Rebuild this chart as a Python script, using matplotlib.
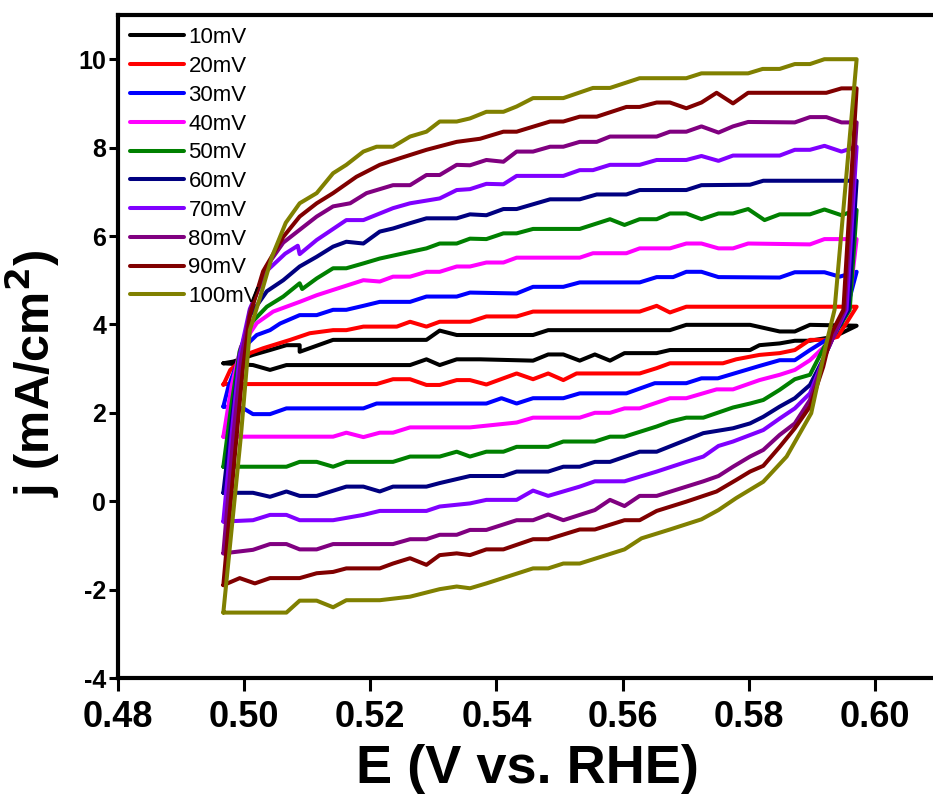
"""
Cyclic voltammetry at different scan rates, j vs E
"""
import matplotlib
import matplotlib.ticker
from matplotlib import pyplot as plt

matplotlib.use('agg')

plt.rcParams['font.family'] = ['Liberation Sans', 'DejaVu Sans']
plt.rcParams['axes.unicode_minus'] = False

labels = ["10mV", "20mV", "30mV", "40mV", "50mV", "60mV", "70mV", "80mV", "90mV", "100mV"]
colors = ["#000000", "#FF0000", "#0000FF", "#FF00FF", "#008000",
          "#000080", "#8000FF", "#800080", "#800000", "#808000"]

# each loop: anodic branch left->right, then cathodic branch right->left
e_10 = [0.4967, 0.4983, 0.5014, 0.5041, 0.5067, 0.5088, 0.5088, 0.5141, 0.5289, 0.531, 0.5337, 0.5458,
        0.5482, 0.5675, 0.5701, 0.5802, 0.5849, 0.5873, 0.5897, 0.5971,
        0.5935, 0.5897, 0.5873, 0.5849, 0.5817, 0.5802, 0.5675, 0.5654, 0.5603, 0.558, 0.5556, 0.5532,
        0.5506, 0.5482, 0.5458, 0.5374, 0.5337, 0.531, 0.5289, 0.5263, 0.5067, 0.5041, 0.5014, 0.4967]
j_10 = [3.12, 3.16, 3.31, 3.42, 3.53, 3.53, 3.38, 3.65, 3.65, 3.86, 3.76, 3.76,
        3.87, 3.87, 3.99, 3.99, 3.84, 3.84, 3.99, 3.97,
        3.72, 3.63, 3.63, 3.57, 3.53, 3.42, 3.42, 3.35, 3.35, 3.18, 3.32, 3.18,
        3.32, 3.32, 3.18, 3.21, 3.21, 3.08, 3.21, 3.08, 3.08, 2.97, 3.08, 3.12]

e_20 = [0.4967, 0.4978, 0.5009, 0.5030, 0.5073, 0.5104, 0.5141, 0.5162, 0.5189, 0.5242, 0.5263, 0.5289,
        0.531, 0.5358, 0.5384, 0.5432, 0.5458, 0.5627, 0.5654, 0.5675, 0.5701, 0.5971,
        0.5941, 0.5923, 0.5897, 0.5873, 0.5849, 0.5817, 0.578, 0.5759, 0.5675, 0.5654, 0.5627, 0.5527,
        0.5506, 0.5482, 0.5458, 0.5432, 0.5384, 0.5358, 0.5337, 0.531, 0.5289, 0.5263, 0.5236, 0.5210,
        0.4967]
j_20 = [2.63, 2.97, 3.35, 3.46, 3.65, 3.80, 3.87, 3.87, 3.95, 3.95, 4.06, 3.95,
        4.06, 4.06, 4.18, 4.18, 4.29, 4.29, 4.42, 4.27, 4.40, 4.40,
        3.72, 3.65, 3.65, 3.42, 3.35, 3.31, 3.21, 3.12, 3.12, 3.01, 2.89, 2.89,
        2.74, 2.89, 2.76, 2.89, 2.64, 2.74, 2.74, 2.63, 2.63, 2.76, 2.76, 2.65,
        2.65]

e_30 = [0.4967, 0.4975, 0.4985, 0.5001, 0.502, 0.5041, 0.5057, 0.5088, 0.5115, 0.5141, 0.5162, 0.5189,
        0.5215, 0.5263, 0.5289, 0.5337, 0.5358, 0.5432, 0.5458, 0.5506, 0.5532, 0.5627, 0.5654, 0.568,
        0.5701, 0.5725, 0.5752, 0.5849, 0.5873, 0.592, 0.5944, 0.5971,
        0.5955, 0.5935, 0.5923, 0.5897, 0.5873, 0.5849, 0.5817, 0.5751, 0.5725, 0.5701, 0.5651, 0.5606,
        0.5532, 0.5506, 0.5458, 0.5432, 0.5408, 0.5384, 0.5210, 0.5189, 0.5067, 0.5041, 0.5014, 0.4999,
        0.4967]
j_30 = [2.14, 2.59, 2.97, 3.50, 3.76, 3.87, 4.02, 4.21, 4.21, 4.33, 4.33, 4.42,
        4.51, 4.51, 4.63, 4.63, 4.72, 4.70, 4.85, 4.85, 4.95, 4.95, 5.07, 5.07,
        5.19, 5.19, 5.07, 5.06, 5.18, 5.18, 5.08, 5.19,
        4.33, 3.80, 3.65, 3.42, 3.19, 3.19, 3.06, 2.78, 2.78, 2.67, 2.67, 2.44,
        2.44, 2.33, 2.33, 2.21, 2.33, 2.21, 2.21, 2.10, 2.10, 1.97, 1.97, 2.10,
        2.14]

e_40 = [0.4967, 0.4980, 0.4995, 0.5020, 0.5046, 0.5088, 0.5115, 0.5141, 0.5189, 0.5215, 0.5236, 0.5263,
        0.5289, 0.531, 0.5337, 0.5358, 0.5384, 0.5411, 0.5432, 0.5532, 0.5553, 0.5606, 0.5627, 0.5675,
        0.5701, 0.5725, 0.5752, 0.5775, 0.5799, 0.5897, 0.592, 0.5971,
        0.5958, 0.5935, 0.592, 0.5897, 0.5873, 0.5849, 0.5817, 0.5775, 0.5749, 0.5701, 0.5675, 0.5627,
        0.5603, 0.558, 0.5556, 0.5532, 0.5458, 0.5432, 0.5358, 0.5263, 0.5236, 0.5215, 0.5189, 0.5162,
        0.5141, 0.4967]
j_40 = [1.46, 2.6, 3.5, 4.03, 4.29, 4.51, 4.66, 4.78, 5.0, 4.97, 5.08, 5.08,
        5.19, 5.19, 5.31, 5.31, 5.40, 5.40, 5.51, 5.51, 5.61, 5.61, 5.72, 5.72,
        5.83, 5.83, 5.72, 5.72, 5.83, 5.81, 5.93, 5.93,
        4.33, 3.75, 3.50, 3.19, 2.97, 2.86, 2.74, 2.53, 2.53, 2.33, 2.33, 2.10,
        2.10, 2.0, 2.0, 1.89, 1.89, 1.78, 1.67, 1.67, 1.55, 1.55, 1.45, 1.55,
        1.46, 1.46]

e_50 = [0.4967, 0.4980, 0.4993, 0.5009, 0.5036, 0.5062, 0.5088, 0.5092, 0.5115, 0.5141, 0.5162, 0.5189,
        0.5215, 0.5263, 0.5289, 0.531, 0.5337, 0.5358, 0.5384, 0.5411, 0.5432, 0.5458, 0.5532, 0.558,
        0.5603, 0.5627, 0.5654, 0.5675, 0.5701, 0.5725, 0.5752, 0.5775, 0.5799, 0.5825, 0.5849, 0.5897,
        0.592, 0.5947, 0.5971,
        0.5960, 0.5935, 0.592, 0.5897, 0.5873, 0.5849, 0.5823, 0.5802, 0.5775, 0.5728, 0.5701, 0.5675,
        0.5654, 0.5603, 0.558, 0.5556, 0.5506, 0.5482, 0.5432, 0.5411, 0.5384, 0.5358, 0.5337, 0.531,
        0.5263, 0.5236, 0.5162, 0.5141, 0.5115, 0.5088, 0.5067, 0.4967]
j_50 = [0.78, 2.2, 3.4, 4.0, 4.40, 4.63, 4.93, 4.80, 5.04, 5.27, 5.27, 5.38,
        5.49, 5.64, 5.72, 5.83, 5.83, 5.94, 5.93, 6.06, 6.06, 6.16, 6.16, 6.38,
        6.25, 6.38, 6.38, 6.51, 6.51, 6.38, 6.51, 6.51, 6.61, 6.36, 6.49, 6.49,
        6.60, 6.47, 6.59,
        4.33, 3.75, 3.50, 2.86, 2.76, 2.52, 2.29, 2.21, 2.12, 1.89, 1.89, 1.80,
        1.69, 1.46, 1.46, 1.35, 1.35, 1.23, 1.23, 1.12, 1.12, 1.01, 1.12, 1.01,
        1.01, 0.89, 0.89, 0.78, 0.89, 0.89, 0.78, 0.78]

e_60 = [0.4967, 0.4980, 0.4993, 0.5009, 0.5036, 0.5062, 0.5088, 0.5115, 0.5141, 0.5162, 0.5189, 0.5215,
        0.5236, 0.5263, 0.5289, 0.5337, 0.5358, 0.5384, 0.5411, 0.5432, 0.5485, 0.5532, 0.5559, 0.5606,
        0.5627, 0.5701, 0.5725, 0.5802, 0.5823, 0.5971,
        0.5958, 0.5935, 0.592, 0.5897, 0.5873, 0.5849, 0.5823, 0.5802, 0.5775, 0.5728, 0.5654, 0.5627,
        0.558, 0.5556, 0.5532, 0.5506, 0.5482, 0.5432, 0.5411, 0.5358, 0.5337, 0.531, 0.5289, 0.5236,
        0.5215, 0.5189, 0.5162, 0.5115, 0.5088, 0.5067, 0.5041, 0.5014, 0.4967]
j_60 = [0.19, 1.8, 3.3, 4.2, 4.75, 5.0, 5.31, 5.53, 5.76, 5.87, 5.83, 6.10,
        6.17, 6.29, 6.40, 6.40, 6.49, 6.47, 6.61, 6.61, 6.83, 6.83, 6.94, 6.94,
        7.04, 7.04, 7.15, 7.16, 7.25, 7.25,
        4.33, 3.75, 3.27, 2.63, 2.33, 2.14, 1.91, 1.76, 1.65, 1.54, 1.12, 1.12,
        0.89, 0.89, 0.78, 0.78, 0.67, 0.67, 0.57, 0.57, 0.50, 0.41, 0.33, 0.33,
        0.22, 0.33, 0.33, 0.12, 0.12, 0.22, 0.10, 0.19, 0.19]

e_70 = [0.4967, 0.4980, 0.4993, 0.5009, 0.5035, 0.5065, 0.5085, 0.5088, 0.5115, 0.5162, 0.5189, 0.5236,
        0.5263, 0.531, 0.5337, 0.5358, 0.5384, 0.5411, 0.5432, 0.5506, 0.5532, 0.5553, 0.558, 0.5627,
        0.5654, 0.5701, 0.5725, 0.5752, 0.5775, 0.5849, 0.5873, 0.5897, 0.592, 0.5947, 0.5971,
        0.5955, 0.5935, 0.592, 0.5897, 0.5873, 0.5849, 0.5823, 0.5799, 0.5775, 0.5752, 0.5728, 0.5701,
        0.5654, 0.5603, 0.5556, 0.5532, 0.5482, 0.5458, 0.5432, 0.5384, 0.5358, 0.531, 0.5289, 0.5215,
        0.5189, 0.5141, 0.5088, 0.5067, 0.5041, 0.5014, 0.4967]
j_70 = [-0.46, 1.5, 3.3, 4.35, 5.2, 5.6, 5.78, 5.59, 5.91, 6.36, 6.36, 6.63,
        6.74, 6.85, 7.04, 7.06, 7.18, 7.17, 7.36, 7.36, 7.49, 7.49, 7.61, 7.61,
        7.72, 7.72, 7.81, 7.70, 7.82, 7.82, 7.95, 7.95, 8.04, 7.91, 8.02,
        4.33, 3.75, 3.27, 2.44, 2.10, 1.87, 1.61, 1.48, 1.35, 1.25, 1.01, 0.89,
        0.67, 0.45, 0.45, 0.33, 0.12, 0.24, 0.03, 0.03, -0.05, -0.12, -0.22, -0.22,
        -0.31, -0.43, -0.43, -0.31, -0.31, -0.43, -0.46]

e_80 = [0.4967, 0.4983, 0.4995, 0.5009, 0.5035, 0.5062, 0.5088, 0.5115, 0.5141, 0.5168, 0.5194, 0.5236,
        0.5263, 0.5289, 0.531, 0.5337, 0.5358, 0.5384, 0.5411, 0.5432, 0.5458, 0.5485, 0.5506, 0.5532,
        0.5559, 0.558, 0.5654, 0.5675, 0.5701, 0.5725, 0.5752, 0.5775, 0.5799, 0.5873, 0.5897, 0.5923,
        0.5947, 0.5971,
        0.5952, 0.5935, 0.592, 0.5897, 0.5873, 0.5849, 0.5823, 0.5802, 0.5775, 0.5752, 0.5728, 0.5654,
        0.5627, 0.5603, 0.558, 0.5556, 0.5506, 0.5482, 0.5458, 0.5432, 0.5384, 0.5358, 0.5337, 0.531,
        0.5289, 0.5263, 0.5236, 0.5141, 0.5115, 0.5088, 0.5067, 0.5041, 0.5014, 0.4967]
j_80 = [-1.18, 1.5, 3.2, 4.3, 5.3, 5.85, 6.14, 6.44, 6.67, 6.74, 6.97, 7.15,
        7.15, 7.38, 7.38, 7.61, 7.60, 7.72, 7.68, 7.91, 7.91, 8.02, 8.02, 8.13,
        8.13, 8.25, 8.25, 8.36, 8.36, 8.48, 8.34, 8.48, 8.58, 8.57, 8.69, 8.69,
        8.57, 8.57,
        4.33, 3.75, 3.27, 2.29, 1.76, 1.50, 1.16, 1.01, 0.78, 0.57, 0.45, 0.12,
        0.12, -0.11, 0.03, -0.20, -0.43, -0.30, -0.43, -0.43, -0.65, -0.65, -0.76, -0.76,
        -0.86, -0.86, -0.97, -0.97, -1.09, -1.09, -0.97, -0.97, -1.10, -1.18]

e_90 = [0.4967, 0.4985, 0.4998, 0.5009, 0.5030, 0.5062, 0.5088, 0.5115, 0.5141, 0.5178, 0.5215, 0.5247,
        0.5289, 0.5337, 0.5374, 0.5411, 0.5432, 0.5485, 0.5506, 0.5532, 0.5559, 0.5606, 0.5627, 0.5654,
        0.5675, 0.5701, 0.5725, 0.5749, 0.5775, 0.5799, 0.5923, 0.5947, 0.5971,
        0.5950, 0.5931, 0.5918, 0.5897, 0.5873, 0.5849, 0.5823, 0.5802, 0.578, 0.5749, 0.5701, 0.5654,
        0.5627, 0.5603, 0.5556, 0.5532, 0.5482, 0.5458, 0.5411, 0.5384, 0.5358, 0.5337, 0.531, 0.5289,
        0.5263, 0.5236, 0.5215, 0.5162, 0.5141, 0.5115, 0.5088, 0.5041, 0.5017, 0.4993, 0.4967]
j_90 = [-1.90, 1.0, 3.0, 4.2, 5.2, 5.98, 6.44, 6.74, 6.97, 7.34, 7.61, 7.76,
        7.95, 8.13, 8.20, 8.36, 8.36, 8.59, 8.59, 8.70, 8.70, 8.92, 8.92, 9.02,
        9.02, 8.89, 9.02, 9.24, 9.00, 9.24, 9.24, 9.34, 9.34,
        4.33, 3.80, 3.04, 2.14, 1.65, 1.23, 0.80, 0.67, 0.48, 0.22, -0.01, -0.22,
        -0.43, -0.43, -0.64, -0.64, -0.86, -0.86, -1.09, -1.09, -1.22, -1.18, -1.22, -1.44,
        -1.29, -1.41, -1.52, -1.52, -1.60, -1.63, -1.74, -1.74, -1.86, -1.74, -1.90]

e_100 = [0.4967, 0.4995, 0.5009, 0.5025, 0.5044, 0.5066, 0.5088, 0.5115, 0.5141, 0.5162, 0.5189, 0.521,
         0.5236, 0.5263, 0.5289, 0.531, 0.5337, 0.5358, 0.5384, 0.5411, 0.5432, 0.5458, 0.5506, 0.5553,
         0.558, 0.5627, 0.5701, 0.5725, 0.5799, 0.5822, 0.5849, 0.5873, 0.5897, 0.592, 0.5971,
         0.5936, 0.5923, 0.5899, 0.586, 0.5823, 0.578, 0.5752, 0.5725, 0.5675, 0.563, 0.5603, 0.5532,
         0.5506, 0.5482, 0.5458, 0.5384, 0.5358, 0.5337, 0.531, 0.5263, 0.5215, 0.5162, 0.5141, 0.5115,
         0.5088, 0.5067, 0.4967]
j_100 = [-2.52, 1.5, 3.87, 4.6, 5.53, 6.3, 6.74, 6.97, 7.42, 7.61, 7.91, 8.02,
         8.02, 8.25, 8.36, 8.59, 8.59, 8.66, 8.81, 8.81, 8.93, 9.12, 9.12, 9.35,
         9.35, 9.57, 9.57, 9.68, 9.68, 9.78, 9.78, 9.89, 9.89, 10.0, 10.0,
         4.33, 3.57, 1.99, 1.01, 0.44, 0.07, -0.20, -0.41, -0.64, -0.84, -1.09, -1.41,
         -1.41, -1.52, -1.52, -1.86, -1.97, -1.93, -1.99, -2.16, -2.24, -2.24, -2.40, -2.25,
         -2.25, -2.52, -2.52]

x_ticks = [0.48, 0.50, 0.52, 0.54, 0.56, 0.58, 0.60]
y_ticks = [-4, -2, 0, 2, 4, 6, 8, 10]

all_e = [e_10, e_20, e_30, e_40, e_50, e_60, e_70, e_80, e_90, e_100]
all_j = [j_10, j_20, j_30, j_40, j_50, j_60, j_70, j_80, j_90, j_100]


if __name__ == "__main__":

    fig = plt.figure(figsize=(9.33, 7.98), dpi=100)
    ax = fig.add_axes([118 / 933, 120 / 798, 820 / 933, 663 / 798])

    for e, j, lab, col in zip(all_e, all_j, labels, colors):
        ax.plot(e, j, '-', color=col, linewidth=2.9, label=lab,
                solid_joinstyle='round', solid_capstyle='round')

    ax.set_xlim((0.48, 0.61))
    ax.set_ylim((-4.0, 11.0))
    ax.set_xticks(x_ticks)
    ax.set_yticks(y_ticks)
    ax.xaxis.set_major_formatter(matplotlib.ticker.FormatStrFormatter('%.2f'))
    ax.yaxis.set_major_formatter(matplotlib.ticker.FormatStrFormatter('%d'))

    for side in ["left", "bottom", "top"]:
        ax.spines[side].set_linewidth(3.0)
    ax.spines["right"].set_visible(False)
    ax.tick_params(axis="both", which="major", direction="out", width=2.2)
    ax.tick_params(axis="x", labelsize=26, pad=7, length=9)
    ax.tick_params(axis="y", labelsize=18, pad=2, length=6.5)
    for t in ax.get_xticklabels() + ax.get_yticklabels():
        t.set_fontweight("bold")

    ax.set_xlabel("E (V vs. RHE)", fontsize=39, fontweight="bold", labelpad=6)
    ax.set_ylabel("j (mA/cm$^\\mathbf{2}$)", fontsize=35, fontweight="bold")
    ax.yaxis.set_label_coords(-0.068, 0.46)

    ax.legend(loc="upper left", bbox_to_anchor=(0.0, 1.0), frameon=False, fontsize=16,
              handlelength=2.4, handletextpad=0.22, labelspacing=0.35,
              borderaxespad=0.25, borderpad=0.3)

    fig.savefig("out.png", dpi=100)
